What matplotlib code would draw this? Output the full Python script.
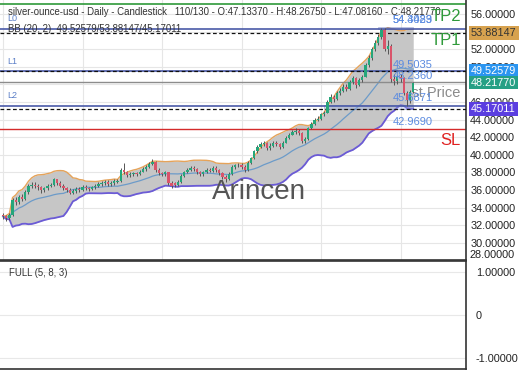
import numpy as np
import pandas as pd
import matplotlib
matplotlib.use("Agg")
import matplotlib.pyplot as plt

plt.rcParams['font.family'] = ['Liberation Sans', 'DejaVu Sans']

# daily OHLC (130 bars)
closes = [33.0, 32.8, 33.2, 34.9, 34.6, 35.2, 35.0, 35.8, 36.5, 36.6,
          36.5, 36.3, 36.0, 36.2, 36.5, 36.6, 37.2, 36.8, 36.5, 36.2,
          36.0, 35.7, 35.9, 36.1, 36.0, 36.4, 36.2, 36.1, 36.3, 36.5,
          36.7, 36.8, 36.9, 36.7, 36.8, 37.0, 37.0, 38.3, 38.0, 37.7,
          37.8, 37.9, 37.8, 38.1, 38.4, 38.6, 39.0, 39.2, 38.3, 37.9,
          37.8, 38.0, 36.8, 36.5, 36.6, 36.9, 37.6, 38.0, 38.3, 38.5,
          38.4, 38.0, 37.8, 38.0, 38.3, 38.2, 38.5, 38.3, 37.9, 37.5,
          37.2, 37.8, 38.6, 38.8, 38.9, 38.6, 38.3, 39.1, 39.6, 40.4,
          40.9, 41.2, 41.3, 40.8, 41.0, 41.4, 41.2, 40.9, 41.4, 41.9,
          42.3, 42.6, 42.7, 42.5, 41.6, 41.8, 43.0, 43.5, 44.0, 44.1,
          44.6, 44.8, 46.0, 46.6, 46.3, 47.0, 47.3, 47.7, 47.5, 48.3,
          48.7, 47.9, 48.5, 48.9, 50.2, 51.0, 52.0, 52.7, 53.4, 54.2,
          52.0, 52.4, 48.6, 48.4, 48.9, 48.7, 47.0, 46.2, 47.1337, 48.2177]
opens = [33.2, 33.0, 32.8, 33.2, 34.9, 34.6, 35.2, 35.0, 35.8, 36.5,
         36.6, 36.5, 36.3, 36.0, 36.2, 36.5, 36.6, 37.2, 36.8, 36.5,
         36.2, 36.0, 35.7, 35.9, 36.1, 36.0, 36.4, 36.2, 36.1, 36.3,
         36.5, 36.7, 36.8, 36.9, 36.7, 36.8, 36.9, 37.0, 38.3, 38.0,
         37.7, 37.8, 37.9, 37.8, 38.1, 38.4, 38.6, 39.0, 39.2, 38.3,
         37.9, 37.8, 38.0, 36.8, 36.8, 36.6, 36.9, 37.6, 38.0, 38.3,
         38.5, 38.4, 38.0, 37.8, 38.0, 38.3, 38.2, 38.5, 38.3, 37.9,
         37.5, 37.2, 37.8, 38.6, 38.8, 38.9, 38.6, 38.3, 39.1, 39.6,
         40.4, 40.9, 41.2, 41.3, 40.8, 41.0, 41.4, 41.2, 40.9, 41.4,
         41.9, 42.3, 42.6, 42.7, 42.5, 41.6, 41.8, 43.0, 43.5, 44.0,
         44.1, 44.6, 44.8, 46.0, 46.6, 46.3, 47.0, 47.3, 47.7, 47.5,
         48.3, 48.7, 47.9, 48.5, 48.9, 50.2, 51.0, 52.0, 52.7, 53.4,
         54.2, 52.0, 52.4, 48.6, 48.4, 48.9, 48.7, 47.0, 46.2, 47.1337]
highs = [33.4, 33.2, 33.4, 35.1, 35.2, 35.4, 35.5, 36.0, 36.7, 36.9,
         36.9, 36.7, 36.5, 36.4, 36.7, 36.8, 37.4, 37.3, 37.0, 36.7,
         36.4, 36.2, 36.1, 36.3, 36.3, 36.6, 36.6, 36.4, 36.5, 36.7,
         36.9, 37.0, 37.1, 37.1, 37.0, 37.2, 37.3, 38.5, 39.1, 38.2,
         38.0, 38.1, 38.1, 38.3, 38.6, 38.8, 39.2, 39.5, 39.3, 38.5,
         38.1, 38.2, 38.1, 37.0, 36.9, 37.1, 37.8, 38.2, 38.5, 38.7,
         38.7, 38.5, 38.2, 38.2, 38.5, 38.5, 38.7, 38.7, 38.4, 38.0,
         37.7, 38.0, 38.8, 39.0, 39.1, 39.1, 38.8, 39.3, 39.8, 40.6,
         41.1, 41.5, 41.6, 41.5, 41.3, 41.6, 41.6, 41.4, 41.6, 42.1,
         42.5, 42.8, 43.0, 42.9, 42.6, 42.0, 43.2, 43.7, 44.2, 44.4,
         44.8, 45.0, 46.2, 46.9, 46.8, 47.3, 47.6, 48.0, 48.0, 48.5,
         49.0, 48.9, 48.7, 49.1, 50.4, 51.3, 52.3, 53.0, 53.7, 54.47,
         54.4, 53.0, 52.6, 49.2, 49.1, 49.2, 48.9, 47.3, 47.4, 48.2675]
lows = [32.7, 32.5, 32.6, 33.0, 34.3, 34.4, 34.8, 34.9, 35.6, 36.2,
        36.2, 36.0, 35.7, 35.8, 36.0, 36.3, 36.5, 36.6, 36.3, 36.0,
        35.8, 35.5, 35.5, 35.7, 35.8, 35.9, 36.0, 35.9, 36.0, 36.1,
        36.3, 36.5, 36.6, 36.5, 36.5, 36.6, 36.8, 36.9, 37.8, 37.5,
        37.5, 37.6, 37.6, 37.7, 38.0, 38.2, 38.5, 38.9, 38.1, 37.7,
        37.6, 37.6, 36.6, 36.2, 36.3, 36.5, 36.8, 37.5, 37.9, 38.2,
        38.2, 37.8, 37.6, 37.6, 37.9, 38.0, 38.1, 38.1, 37.7, 37.3,
        36.9, 37.1, 37.7, 38.4, 38.6, 38.4, 38.1, 38.2, 39.0, 39.5,
        40.2, 40.8, 41.0, 40.6, 40.6, 40.9, 41.0, 40.7, 40.8, 41.3,
        41.8, 42.2, 42.4, 42.3, 41.4, 41.3, 41.7, 42.9, 43.4, 43.8,
        44.0, 44.4, 44.7, 45.9, 46.0, 46.2, 46.8, 47.1, 47.2, 47.4,
        48.1, 47.6, 47.8, 48.3, 48.8, 50.0, 50.8, 51.8, 52.5, 53.2,
        51.8, 51.5, 48.3, 47.9, 48.1, 48.3, 46.8, 45.6, 45.9, 47.0816]

bb_period = 20
bb_mult = 2
bb_mid_last, bb_up_last, bb_lo_last = 49.52579, 53.88147, 45.17011

tp2_level = 57.1
l0_level = 54.3489
l1_level = 49.5035
last_level = 48.236
l2_level = 45.55
sl_level = 42.969
l2_zone = (101, 129, 45.17, 45.62)
l0_zone = (118, 129, 54.35, 54.55)

title = ("silver-ounce-usd - Daily - Candlestick   110/130 - O:47.13370 - "
         "H:48.26750 - L:47.08160 - C:48.21770")
bb_text = "BB (20, 2)  49.52579/53.88147/45.17011"
price_ticks = list(range(30, 57, 2))

GREEN = '#26a67a'
RED = '#d9546a'

# Bollinger bands from closes
s = pd.Series(closes)
mid = s.rolling(bb_period, min_periods=1).mean()
sd = s.rolling(bb_period, min_periods=1).std(ddof=0)
upper = mid + bb_mult * sd
lower = mid - bb_mult * sd

fig = plt.figure(figsize=(5.2, 3.9), dpi=100)
W, H = 520.0, 390.0
ax = fig.add_axes([0, 1 - 260.4 / H, 466 / W, 260.4 / H])
ax2 = fig.add_axes([0, 1 - 369 / H, 466 / W, 108 / H])

x = np.arange(len(closes))
o = np.array(opens)
c = np.array(closes)

ax.set_xlim(-3 / 3.18, 463 / 3.18)
ax.set_ylim(28, 57.6)

ax.set_axisbelow(True)
ax.set_yticks(price_ticks)
ax.set_yticklabels([f"{v:.5f}" for v in price_ticks])
ax.set_xticks([0, 25, 50, 75, 100, 125])
ax.set_xticklabels([])
ax.grid(True, color='#e6e6e6', lw=0.8)
ax.yaxis.tick_right()
ax.tick_params(axis='both', length=0)
ax.tick_params(axis='y', pad=3, labelsize=7.8, labelcolor='#222222')
for sp in ['top', 'left']:
    ax.spines[sp].set_visible(False)
for sp in ['bottom', 'right']:
    ax.spines[sp].set_color('#333333')
    ax.spines[sp].set_linewidth(1.2)

ytr = ax.get_yaxis_transform()

# "Last Price" sits beneath the band fill
ax.annotate("Last Price", xy=(460 / 466, last_level), xycoords=ytr,
            xytext=(0, -8), textcoords='offset points', ha='right', va='center',
            fontsize=10.5, color='#8a8a8a', zorder=0.8)

ax.fill_between(x, lower, upper, color='#c6c6c6', zorder=1, lw=0)
ax.plot(x, upper, color='#e5a35a', lw=1.0, zorder=2)
ax.plot(x, lower, color='#6b5bd6', lw=1.3, zorder=2)
ax.plot(x, mid, color='#6c9bc9', lw=0.9, zorder=2)

# level lines
ax.axhline(tp2_level, color='#2f9a3a', lw=1.2, zorder=2.5)
ax.axhline(l0_level, color='#4a5aa8', lw=1.2, zorder=2.5)
ax.axhline(l1_level, color='#4a5aa8', lw=1.2, zorder=2.5)
ax.axhline(l2_level, color='#4a5aa8', lw=1.2, zorder=2.5)
ax.axhline(last_level, color='#8c8c8c', lw=1.0, zorder=2.5)
ax.axhline(sl_level, color='#d42a2a', lw=1.0, zorder=2.5)
for lv in [bb_up_last, bb_mid_last, bb_lo_last]:
    ax.axhline(lv, color='#111111', lw=0.9, ls=(0, (3, 2)), zorder=2.6)
for z in [l2_zone, l0_zone]:
    ax.fill_between([z[0], z[1]], z[2], z[3], color='#9fb2ea', alpha=0.35, zorder=2.4,
                    edgecolor='#4a5aa8', lw=0.6)

# candles
col = np.where(c >= o, GREEN, RED)
ax.vlines(x, lows, highs, colors='#555555', lw=0.7, zorder=3)
ax.bar(x, np.maximum(np.abs(c - o), 0.06), bottom=np.minimum(o, c), width=0.72,
       color=col, lw=0, zorder=4)

# texts inside the price pane
ax.text(8 / 466, 1 - 12 / 260.4, title, transform=ax.transAxes, va='center',
        fontsize=6.9, color='#333333', zorder=7)
ax.text(8 / 466, 1 - 29 / 260.4, bb_text, transform=ax.transAxes, va='center',
        fontsize=6.9, color='#333333', zorder=7)
for name, lv, dy in [("L0", l0_level, 7.5), ("L1", l1_level, 7), ("L2", l2_level, 7.5)]:
    ax.annotate(name, xy=(7 / 466, lv), xycoords=ytr, xytext=(0, dy),
                textcoords='offset points', fontsize=6.5, color='#5b7fc7',
                va='center', zorder=7)

for txt, lv, dy in [("54.3489", l0_level, 6.5), ("54.4023", l0_level, 6.0),
                    ("49.5035", l1_level, 4.3), ("48.2360", last_level, 4.3),
                    ("45.6871", l2_level, 5.8), ("42.9690", sl_level, 5.0)]:
    ax.annotate(txt, xy=(393 / 466, lv), xycoords=ytr, xytext=(0, dy),
                textcoords='offset points', fontsize=8, color='#5b8be0',
                va='center', zorder=7)

for txt, lv, colr in [("TP2", tp2_level, '#2f9a3a'), ("TP1", l0_level, '#2f9a3a'),
                      ("SL", sl_level, '#e02020')]:
    ax.annotate(txt, xy=(461 / 466, lv), xycoords=ytr, xytext=(0, -8.6),
                textcoords='offset points', fontsize=12, color=colr,
                ha='right', va='center', zorder=7)

ax.text(259 / 466, 1 - 192 / 260.4, "Arincen", transform=ax.transAxes,
        ha='center', va='center', fontsize=20, color='#555555', zorder=6)

# axis value boxes
for txt, lv, fc, tc in [("53.88147", bb_up_last, '#d7a24f', '#333333'),
                        ("49.52579", bb_mid_last, '#2b95f0', 'white'),
                        ("48.21770", closes[-1], '#26a085', 'white'),
                        ("45.17011", bb_lo_last, '#5b3ee0', 'white')]:
    ax.text(1 + 5 / 466, lv, txt, transform=ytr, ha='left', va='center',
            fontsize=7.8, color=tc, clip_on=False, zorder=10,
            bbox=dict(boxstyle='square,pad=0.18', fc=fc, ec='none'))
ax.text(1 + 4 / 466, 28, "28.00000", transform=ytr, ha='left', va='bottom',
        fontsize=7.8, color='#222222', clip_on=False)
ax.text(1 + 4 / 466, 58, "58.00000", transform=ytr, ha='left', va='center',
        fontsize=7.8, color='#222222', clip_on=False)

# stochastic pane (empty)
ax2.set_xlim(ax.get_xlim())
ax2.set_ylim(-1.26, 1.26)
ax2.set_yticks([1, 0, -1])
ax2.set_yticklabels(["1.00000", "0", "-1.00000"])
ax2.set_xticks([])
ax2.yaxis.tick_right()
ax2.tick_params(axis='y', length=0, pad=7, labelsize=7.8, labelcolor='#222222')
ax2.grid(True, axis='y', color='#e8e8e8', lw=0.8)
ax2.spines['left'].set_visible(False)
for sp in ['top', 'bottom', 'right']:
    ax2.spines[sp].set_color('#333333')
    ax2.spines[sp].set_linewidth(1.2)
ax2.text(9 / 466, 0.889, "FULL (5, 8, 3)", transform=ax2.transAxes, va='center',
         fontsize=6.9, color='#333333')

fig.savefig("out.png", dpi=100)
